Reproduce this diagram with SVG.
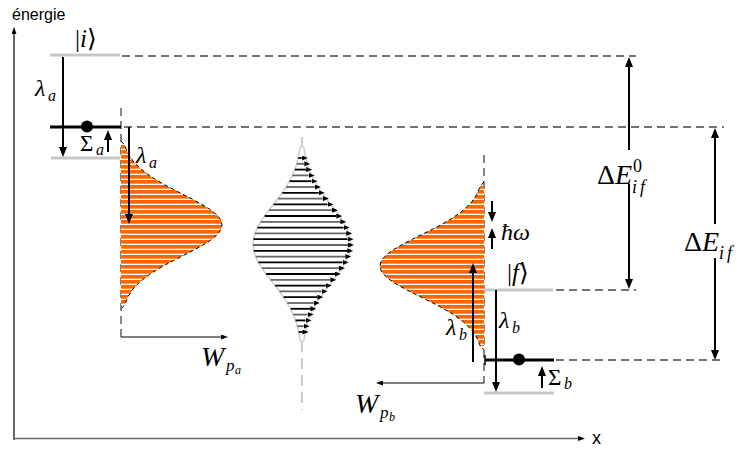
<svg xmlns="http://www.w3.org/2000/svg" width="746" height="449" viewBox="0 0 746 449">
<defs>
<style>
.math{font-family:"Liberation Serif","DejaVu Serif",serif;fill:#000}
.it{font-style:italic}
.sans{font-family:"Liberation Sans",Arial,sans-serif;fill:#000}
.dash{stroke:#444;stroke-width:1.3;stroke-dasharray:8 5;fill:none}
.gray{stroke:#c8c8c8;stroke-width:3}
.lvl{stroke:#000;stroke-width:3}
.arr{stroke:#000;stroke-width:2;marker-end:url(#big)}
.dbl{stroke:#000;stroke-width:2;marker-start:url(#big);marker-end:url(#big)}
.thin{stroke:#000;stroke-width:1;marker-end:url(#small)}
.ax{stroke:#666;fill:none;marker-end:url(#small)}
.ma{stroke-width:1.8;marker-end:url(#mid)}
.m1{stroke:#000}
.m2{stroke:#666}
.curve{fill:none;stroke:#000;stroke-width:1;stroke-dasharray:4 3}
</style>
<pattern id="stripes" patternUnits="userSpaceOnUse" width="10" height="5"><rect width="10" height="5" fill="#fff"/><rect width="10" height="3.7" fill="#ff6600"/></pattern>
<marker id="big" viewBox="0 0 10 8" refX="0" refY="4" markerWidth="10" markerHeight="8" markerUnits="userSpaceOnUse" orient="auto-start-reverse"><path d="M0,0 L10,4 L0,8 Z" fill="#000"/></marker>
<marker id="small" viewBox="0 0 7 5" refX="0" refY="2.5" markerWidth="7" markerHeight="5" markerUnits="userSpaceOnUse" orient="auto"><path d="M0,0 L7,2.5 L0,5 Z" fill="#000"/></marker>
<marker id="mid" viewBox="0 0 6 5" refX="0" refY="2.5" markerWidth="6" markerHeight="5" markerUnits="userSpaceOnUse" orient="0"><path d="M0,0 L6,2.5 L0,5 Z" fill="#000"/></marker>
</defs>
<rect width="746" height="449" fill="#fff"/>

<g id="axes">
<line class="ax" x1="14" y1="440" x2="14" y2="34" stroke-width="2"/>
<line class="ax" x1="13" y1="438.5" x2="578" y2="438.5" stroke-width="1.5"/>
<text class="sans" x="12" y="20" font-size="16">énergie</text>
<text class="sans" x="592" y="444" font-size="18">x</text>
</g>

<g id="guides">
<line class="dash" x1="122" y1="56" x2="636" y2="56"/>
<line class="dash" x1="124" y1="127" x2="724" y2="127"/>
<line class="dash" x1="556" y1="290" x2="636" y2="290"/>
<line class="dash" x1="556" y1="360" x2="720" y2="360"/>
<line class="dash" x1="121" y1="108" x2="121" y2="337"/>
<line class="dash" x1="484" y1="155" x2="484" y2="383"/>
<line x1="302" y1="137" x2="302" y2="410" stroke="#bbb" stroke-width="1.5" stroke-dasharray="11 6"/>
</g>

<g id="level-i">
<line class="gray" x1="50" y1="55" x2="120" y2="55"/>
<text class="math" x="75" y="47" font-size="25">|<tspan class="it">i</tspan>⟩</text>
</g>

<g id="level-a">
<line class="lvl" x1="50" y1="127" x2="121" y2="127"/>
<circle cx="87" cy="126.5" r="6" fill="#000"/>
<line class="gray" x1="51" y1="158" x2="120" y2="158"/>
</g>

<g id="distribution-a">
<path d="M121,145 L124.6,145 L127.8,153 L133,161 L140.8,169 L151.5,177 L164.9,185 L180.3,193 L188.2,197 L195.8,201 L203,205 L209.4,209 L214.7,213 L218.7,217 L221.2,221 L222,225 L221.2,229 L218.7,233 L214.7,237 L209.4,241 L203,245 L195.8,249 L188.2,253 L180.3,257 L164.9,265 L151.5,273 L140.8,281 L133,289 L127.8,297 L124.6,305 L121,305 Z" fill="url(#stripes)"/>
<path class="curve" d="M121,141 L124.6,145 L127.8,153 L133,161 L140.8,169 L151.5,177 L164.9,185 L180.3,193 L188.2,197 L195.8,201 L203,205 L209.4,209 L214.7,213 L218.7,217 L221.2,221 L222,225 L221.2,229 L218.7,233 L214.7,237 L209.4,241 L203,245 L195.8,249 L188.2,253 L180.3,257 L164.9,265 L151.5,273 L140.8,281 L133,289 L127.8,297 L124.6,305 L121,309"/>
</g>

<g id="distribution-b">
<path d="M484,186 L480.3,186 L477,194 L471.6,202 L463.6,210 L452.6,218 L438.8,226 L422.9,234 L414.8,238 L407,242 L399.6,246 L393,250 L387.5,254 L383.4,258 L380.8,262 L380,266 L380.8,270 L383.4,274 L387.5,278 L393,282 L399.6,286 L407,290 L414.8,294 L422.9,298 L438.8,306 L452.6,314 L463.6,322 L471.6,330 L477,338 L480.3,346 L484,346 Z" fill="url(#stripes)"/>
<path class="curve" d="M484,182 L480.3,186 L477,194 L471.6,202 L463.6,210 L452.6,218 L438.8,226 L422.9,234 L414.8,238 L407,242 L399.6,246 L393,250 L387.5,254 L383.4,258 L380.8,262 L380,266 L380.8,270 L383.4,274 L387.5,278 L393,282 L399.6,286 L407,290 L414.8,294 L422.9,298 L438.8,306 L452.6,314 L463.6,322 L471.6,330 L477,338 L480.3,346 L484,350"/>
</g>

<g id="distribution-mid">
<path d="M302,146 L300,148 L298.6,156 L296.7,164 L293.9,172 L290.1,180 L285.5,188 L279.9,196 L273.8,204 L267.6,212 L261.9,220 L257.2,228 L254.1,236 L253,244 L254.1,252 L257.2,260 L261.9,268 L267.6,276 L273.8,284 L279.9,292 L285.5,300 L290.1,308 L293.9,316 L296.7,324 L298.6,332 L300,340 L302,342 L304,340 L305.4,332 L307.3,324 L310.1,316 L313.9,308 L318.5,300 L324.1,292 L330.2,284 L336.4,276 L342.1,268 L346.8,260 L349.9,252 L351,244 L349.9,236 L346.8,228 L342.1,220 L336.4,212 L330.2,204 L324.1,196 L318.5,188 L313.9,180 L310.1,172 L307.3,164 L305.4,156 L304,148 Z" fill="#fff" stroke="#d0d0d0" stroke-width="1.5"/>
<line class="ma m1" x1="298.2" y1="158" x2="301.8" y2="158"/>
<line class="ma m2" x1="296.7" y1="163.8" x2="304.3" y2="163.8"/>
<line class="ma m1" x1="294.8" y1="169.6" x2="306.2" y2="169.6"/>
<line class="ma m2" x1="292.4" y1="175.4" x2="308.6" y2="175.4"/>
<line class="ma m1" x1="289.5" y1="181.2" x2="311.5" y2="181.2"/>
<line class="ma m2" x1="286.1" y1="187" x2="314.9" y2="187"/>
<line class="ma m1" x1="282.2" y1="192.8" x2="318.8" y2="192.8"/>
<line class="ma m2" x1="278" y1="198.6" x2="323" y2="198.6"/>
<line class="ma m1" x1="273.5" y1="204.4" x2="327.5" y2="204.4"/>
<line class="ma m2" x1="269" y1="210.2" x2="332" y2="210.2"/>
<line class="ma m1" x1="264.7" y1="216" x2="336.3" y2="216"/>
<line class="ma m2" x1="260.7" y1="221.8" x2="340.3" y2="221.8"/>
<line class="ma m1" x1="257.4" y1="227.6" x2="343.6" y2="227.6"/>
<line class="ma m2" x1="254.9" y1="233.4" x2="346.1" y2="233.4"/>
<line class="ma m1" x1="253.4" y1="239.2" x2="347.6" y2="239.2"/>
<line class="ma m2" x1="253" y1="245" x2="348" y2="245"/>
<line class="ma m1" x1="253.8" y1="250.8" x2="347.2" y2="250.8"/>
<line class="ma m2" x1="255.6" y1="256.6" x2="345.4" y2="256.6"/>
<line class="ma m1" x1="258.4" y1="262.4" x2="342.6" y2="262.4"/>
<line class="ma m2" x1="262" y1="268.2" x2="339" y2="268.2"/>
<line class="ma m1" x1="266.1" y1="274" x2="334.9" y2="274"/>
<line class="ma m2" x1="270.6" y1="279.8" x2="330.4" y2="279.8"/>
<line class="ma m1" x1="275.1" y1="285.6" x2="325.9" y2="285.6"/>
<line class="ma m2" x1="279.5" y1="291.4" x2="321.5" y2="291.4"/>
<line class="ma m1" x1="283.6" y1="297.2" x2="317.4" y2="297.2"/>
<line class="ma m2" x1="287.3" y1="303" x2="313.7" y2="303"/>
<line class="ma m1" x1="290.6" y1="308.8" x2="310.4" y2="308.8"/>
<line class="ma m2" x1="293.3" y1="314.6" x2="307.7" y2="314.6"/>
<line class="ma m1" x1="295.5" y1="320.4" x2="305.5" y2="320.4"/>
<line class="ma m2" x1="297.3" y1="326.2" x2="303.7" y2="326.2"/>
<line class="ma m1" x1="298.6" y1="332" x2="302.4" y2="332"/>
</g>

<g id="level-f">
<line class="gray" x1="484" y1="290" x2="553" y2="290"/>
<text class="math" x="507" y="281" font-size="25">|<tspan class="it">f</tspan>⟩</text>
</g>

<g id="level-b">
<line class="lvl" x1="485" y1="360" x2="554" y2="360"/>
<line x1="485" y1="355" x2="485" y2="365" stroke="#000" stroke-width="1.5"/>
<circle cx="519" cy="359.5" r="6" fill="#000"/>
<line class="gray" x1="484" y1="393" x2="554" y2="393"/>
</g>

<g id="connectors">
<line class="arr" x1="63" y1="57" x2="63" y2="147"/>
<line class="arr" x1="108" y1="152" x2="108" y2="140"/>
<line class="arr" x1="129" y1="127" x2="129" y2="214"/>
<line class="arr" x1="492" y1="201" x2="492" y2="212"/>
<line class="arr" x1="492" y1="249" x2="492" y2="238"/>
<line class="arr" x1="473" y1="362" x2="473" y2="273"/>
<line class="arr" x1="496" y1="290" x2="496" y2="382"/>
<line class="arr" x1="542" y1="388" x2="542" y2="376"/>
<line class="dbl" x1="629" y1="67" x2="629" y2="279"/>
<line class="dbl" x1="715" y1="138" x2="715" y2="350"/>
<line class="thin" x1="121" y1="337" x2="221" y2="337"/>
<line class="thin" x1="484" y1="383" x2="383" y2="383"/>
</g>

<g id="labels">
<text class="math it" x="35" y="96" font-size="24">λ</text><text class="math it" x="48" y="101" font-size="16">a</text>
<text class="math" x="80" y="151" font-size="23">Σ</text><text class="math it" x="96" y="155" font-size="16">a</text>
<text class="math it" x="136" y="163" font-size="24">λ</text><text class="math it" x="149" y="168" font-size="16">a</text>
<text class="math it" x="201" y="366" font-size="28">W</text><text class="math it" x="226" y="371" font-size="17">p</text><text class="math it" x="235" y="374" font-size="12">a</text>
<text class="math it" x="355" y="413" font-size="28">W</text><text class="math it" x="380" y="418" font-size="17">p</text><text class="math it" x="389" y="421" font-size="12">b</text>
<text class="math it" x="501" y="240" font-size="24">ħω</text>
<text class="math it" x="446" y="335" font-size="24">λ</text><text class="math it" x="459" y="340" font-size="16">b</text>
<text class="math it" x="499" y="328" font-size="24">λ</text><text class="math it" x="512" y="333" font-size="16">b</text>
<text class="math" x="548" y="385" font-size="23">Σ</text><text class="math it" x="564" y="389" font-size="16">b</text>
<rect x="596" y="150" width="68" height="34" fill="#fff"/>
<text class="math" x="597" y="184" font-size="28">Δ<tspan class="it">E</tspan></text>
<text class="math" x="633" y="172" font-size="18">0</text>
<text class="math it" x="632" y="193" font-size="18" letter-spacing="3">if</text>
<rect x="683" y="224" width="63" height="34" fill="#fff"/>
<text class="math" x="684" y="251" font-size="28">Δ<tspan class="it">E</tspan></text>
<text class="math it" x="719" y="259" font-size="18" letter-spacing="3">if</text>
</g>
</svg>
